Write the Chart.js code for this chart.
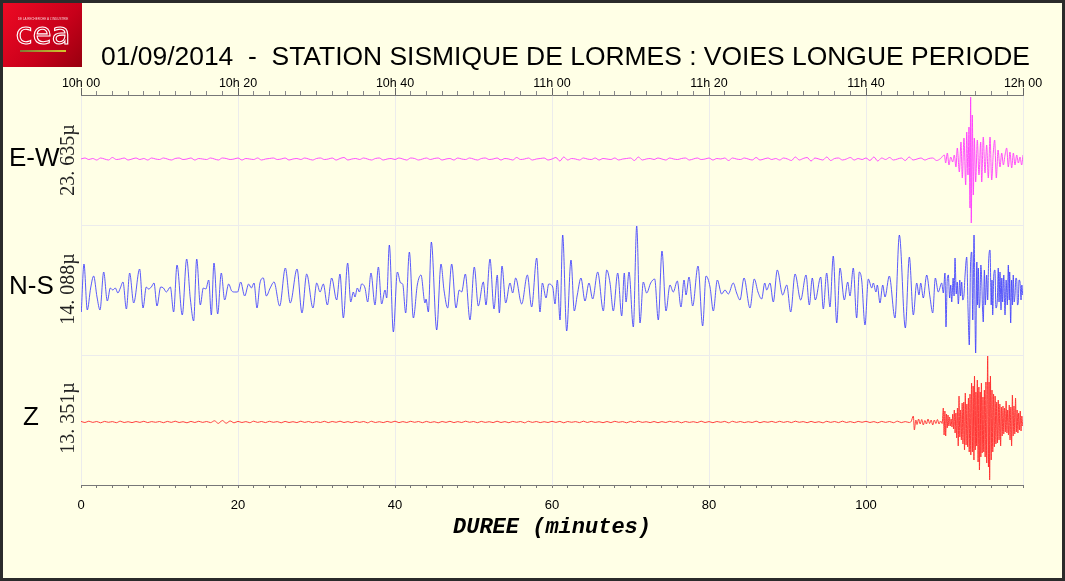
<!DOCTYPE html>
<html><head><meta charset="utf-8">
<script src="https://cdn.jsdelivr.net/npm/chart.js@4.4.1/dist/chart.umd.min.js"></script>
<style>html,body{margin:0;padding:0;background:#ffffe6;overflow:hidden}canvas{display:block}</style>
</head><body>
<canvas id="c" width="1065" height="581"></canvas>
<script>
// ---- tick labels / text ----
const minuteTicks = [0, 20, 40, 60, 80, 100, 120];
const bottomTickLabels = ['0', '20', '40', '60', '80', '100', ''];
const topTickLabels = ['10h 00', '10h 20', '10h 40', '11h 00', '11h 20', '11h 40', '12h 00'];
const channelNames = ['E-W', 'N-S', 'Z'];
const channelScales = ['23. 635\u00b5', '14. 088\u00b5', '13. 351\u00b5'];
const titleText = '01/09/2014  -  STATION SISMIQUE DE LORMES : VOIES LONGUE PERIODE';
const xTitle = 'DUREE (minutes)';

// ---- E-W channel (quiet part sampled every 0.5 min, then the quake as [minute, amplitude]) ----
const ewQuietStep = 0.5;
const ewQuiet = [
  0,1,-0.5,0.5,-1,1,0,-1,1.5,-0.5,0,1,-1,0,1,-0.5,0.5,-1,1,0,
  -0.5,1,0,-1,0.5,1,-0.5,0,1,-1,0.5,0,-0.5,1,0,-1,1,0.5,-0.5,0,
  1,-1,0.5,0,-0.5,1,-1,0,0.5,1,-0.5,0,1,-1,0,0.5,-0.5,1,0,-1,
  0.5,1,-0.5,0,1,-1,0.5,1.5,-1,0,0.5,-0.5,1,0,-1,0.5,1,-1,0,0.5,
  -0.5,1,0,-1,1,0.5,-1,0,1,-0.5,0.5,1,-1,0,0.5,-1,1,0,-0.5,1,
  0,-1,0.5,1,-0.5,0,1,-1,0.5,0,-1,1.5,-0.5,0,1,-1,0,0.5,1,-1,
  0,1.5,-2,2,-1,0.5,0,-1,1,0,-0.5,1,-1,0.5,0,-0.5,1,-1,0,0.5,
  1,-1.5,2,-1,0,0.5,-0.5,1,0,-1,1,0,-0.5,0.5,1,-1,0,1,-0.5,0,
  1,-1,0.5,0,1,-1.5,1,0,-0.5,1,0,-1,1.5,-1,0,1,-0.5,0.5,-1,1,
  0,-1.5,2,-1,0.5,1.5,-2,1,0,-1,2,-1.5,0.5,1,-1,0,1.5,-1,0.5,-0.5,
  1,-1.5,2,-2,1,-0.5,1.5,-1,0,1,-1.5,2,-1,0,1,-1,0.5,1,-1.5,0.5
];
const ewBurst = [
  [109.98,4],[110.15,-4],[110.36,6],[110.57,-6],[110.79,2],[111.04,-3],[111.25,4],[111.46,-8],
  [111.63,11],[111.89,-13],[112.1,17],[112.27,-19],[112.48,21],[112.7,-26],[112.83,27],[112.99,-16],
  [113.12,32],[113.25,-49],[113.33,62],[113.41,-64],[113.54,44],[113.67,-36],[113.8,21],[113.97,-23],
  [114.18,19],[114.39,-16],[114.61,17],[114.74,-23],[114.94,22],[115.16,-14],[115.37,14],[115.58,-19],
  [115.8,22],[116.01,-21],[116.22,7],[116.39,19],[116.6,-19],[116.82,9],[117.07,-8],[117.29,6],
  [117.5,-6],[117.71,4],[117.92,11],[118.13,-8],[118.34,7],[118.56,-9],[118.77,6],[118.98,-6],
  [119.2,4],[119.41,-4],[119.62,2],[119.83,-6],[120,4]
];

// ---- N-S channel: successive extrema [minute, amplitude] ----
const nsTrace = [
  [0.04,-22],[0.38,26],[0.8,-20],[1.23,2],[1.61,14],[2.04,-7],[2.42,-20],[2.89,18],[3.35,-11],[3.74,2],
  [4.05,0],[4.37,2],[4.7,-3],[5.01,2],[5.35,8],[5.78,-19],[6.2,17],[6.71,-13],[7.47,21],[7.9,-18],
  [8.32,3],[8.6,1],[8.96,3],[9.3,7],[9.68,-16],[10.15,3],[10.5,2],[10.87,-2],[11.38,3],[11.8,-22],
  [12.23,25],[12.9,-25],[13.46,31],[13.93,-9],[14.35,-31],[14.74,31],[15.2,-15],[15.58,2],[15.9,1],[16.27,10],
  [16.6,-25],[16.94,27],[17.41,-24],[17.87,17],[18.3,-10],[18.81,6],[19.2,-1],[19.58,-2],[19.95,-2],[20.34,8],
  [20.85,-6],[21.36,6],[21.7,2],[22.04,7],[22.42,-18],[22.8,7],[23.23,12],[23.61,-6],[24.1,2],[24.59,8],
  [25.31,-16],[26.03,22],[26.66,-13],[27.52,21],[28.15,-23],[28.75,16],[29.55,-18],[30.03,7],[30.45,-2],[30.87,6],
  [31.38,-15],[31.93,12],[32.57,-10],[32.99,16],[33.42,-28],[33.97,27],[34.36,-12],[34.69,-2],[34.9,-7],[35.2,2],
  [35.46,-2],[35.75,6],[36.18,2],[36.52,-12],[36.94,17],[37.45,-15],[37.88,23],[38.3,-14],[38.73,0],[38.94,-8],
  [39.28,45],[39.79,-42],[40.3,18],[40.72,7],[40.98,6],[41.36,-23],[41.83,38],[42.34,-28],[42.84,5],[43.31,15],
  [43.82,-13],[43.95,-9],[44.25,-22],[44.63,48],[45.31,-40],[45.86,26],[46.24,0],[46.71,-18],[47.22,26],[47.77,-18],
  [48.19,0],[48.49,-2],[48.96,16],[49.55,-30],[50.1,23],[50.61,-16],[51.25,8],[51.59,-15],[52.1,31],[52.61,-19],
  [53.03,15],[53.29,-23],[53.63,24],[54.1,-13],[54.65,7],[54.99,-3],[55.37,12],[56.14,-14],[56.86,15],[57.41,-17],
  [58.05,32],[58.47,-22],[58.77,7],[59.24,-8],[59.58,6],[60.09,3],[60.38,-14],[60.68,10],[61.02,-30],[61.36,55],
  [61.87,-41],[62.42,30],[62.84,-21],[63.22,-5],[63.69,12],[64.2,-11],[64.71,7],[65.18,-9],[65.82,18],[66.54,-21],
  [66.97,20],[67.39,7],[67.81,-21],[68.37,17],[68.88,-26],[69.21,17],[69.43,-12],[69.81,18],[70.36,-37],[70.79,64],
  [71.21,-33],[71.63,8],[72.06,-3],[72.57,7],[73.08,11],[73.54,-30],[74.01,39],[74.52,-21],[75.03,5],[75.45,-2],
  [75.96,9],[76.43,-17],[76.82,10],[77.07,-5],[77.45,13],[77.92,-16],[78.6,24],[79.19,-36],[79.62,14],[80.13,3],
  [80.55,-21],[81.06,10],[81.61,-4],[82.04,0],[82.46,-4],[83.09,7],[83.52,-3],[83.95,-10],[84.46,12],[85.22,-18],
  [85.77,11],[86.24,-2],[86.71,-9],[87.1,7],[87.35,0],[87.77,7],[88.19,-12],[88.7,20],[89.39,-5],[89.9,5],
  [90.41,-22],[90.96,16],[91.68,-10],[92.36,15],[92.78,-15],[93.16,12],[93.54,-10],[94.23,13],[94.56,-19],[94.99,17],
  [95.41,-17],[95.83,34],[96.27,-33],[96.69,22],[97.24,-10],[97.67,8],[97.96,-6],[98.38,22],[98.81,-28],[99.15,18],
  [99.45,10],[99.87,-35],[100.3,11],[100.73,2],[100.93,7],[101.27,-2],[101.44,5],[101.78,-13],[102.13,5],[102.42,-7],
  [102.97,14],[103.69,-28],[104.25,55],[105.01,-38],[105.52,33],[106.03,-25],[106.46,7],[106.75,-5],[106.97,7],[107.3,-8],
  [107.73,15],[108.15,-7],[108.5,-23],[108.83,12],[109.21,-2],[109.64,7],[109.85,-3],[110.06,17],[110.19,-37],[110.35,10],
  [110.49,15],[110.65,-8],[110.8,5],[110.92,-12],[111.1,12],[111.22,-6],[111.34,32],[111.5,-4],[111.62,8],[111.76,-14],
  [111.95,10],[112.05,-6],[112.19,8],[112.33,-10],[112.48,-5],[112.62,15],[112.83,33],[113.0,-20],[113.16,-55],[113.3,20],
  [113.47,38],[113.6,-30],[113.76,55],[113.97,-63],[114.12,28],[114.2,-15],[114.31,22],[114.42,-18],[114.52,-10],[114.63,25],
  [114.74,10],[114.85,-20],[114.94,-32],[115.08,20],[115.2,-15],[115.37,15],[115.5,-10],[115.62,28],[115.8,40],[115.95,-15],
  [116.05,10],[116.14,-25],[116.28,15],[116.43,20],[116.55,-18],[116.73,-10],[116.85,22],[116.95,-12],[117.07,18],[117.2,-20],
  [117.3,12],[117.41,-12],[117.55,15],[117.71,-25],[117.85,10],[118.0,-15],[118.13,25],[118.25,-10],[118.3,18],[118.43,-33],
  [118.55,10],[118.66,-15],[118.76,15],[118.88,-12],[118.98,-5],[119.1,12],[119.2,10],[119.3,-15],[119.4,-12],[119.5,10],
  [119.62,8],[119.75,-10],[119.85,5],[119.96,-5]
];

// ---- Z channel (quiet part every 0.5 min, then onset / quake as [minute, amplitude]) ----
const zQuietStep = 0.5;
const zQuiet = [
  0.6,-0.5,0.8,-0.4,0.5,-0.8,0.6,-0.3,0.4,-0.7,0.8,-0.5,0.3,-0.6,0.5,-0.4,0.7,-0.6,0.4,-0.3,
  0.5,-0.7,0.6,-0.4,0.8,-0.5,0.3,-0.8,0.6,-0.5,0.7,-0.4,0.5,-0.6,1.2,-1.4,1.5,-1.2,1,-0.8,
  0.6,-0.5,0.4,-0.7,0.8,-0.4,0.5,-0.6,0.7,-0.3,0.4,-0.8,0.6,-0.5,0.3,-0.6,0.8,-0.4,0.5,-0.7,
  0.4,-0.5,0.7,-0.6,0.5,-0.3,0.8,-0.5,0.4,-0.7,0.6,-0.4,0.5,-0.8,0.7,-0.5,0.3,-0.6,0.6,-0.4,
  0.8,-0.6,0.4,-0.5,0.7,-0.3,0.5,-0.7,0.6,-0.5,0.3,-0.8,0.5,-0.4,0.7,-0.6,0.4,-0.5,0.8,-0.3,
  0.5,-0.7,0.6,-0.4,0.3,-0.6,0.8,-0.5,0.4,-0.7,0.6,-0.3,0.5,-0.8,0.7,-0.4,0.5,-0.6,0.3,-0.5,
  0.7,-0.4,0.6,-0.8,0.5,-0.3,0.4,-0.6,0.8,-0.5,0.6,-0.4,0.3,-0.7,0.5,-0.6,0.7,-0.3,0.4,-0.8,
  0.6,-0.5,0.8,-0.4,0.3,-0.6,0.5,-0.7,0.4,-0.5,0.7,-0.3,0.6,-0.8,0.5,-0.4,0.3,-0.6,0.8,-0.5,
  0.4,-0.7,0.5,-0.3,0.6,-0.8,0.7,-0.4,0.5,-0.6,0.3,-0.5,0.8,-0.7,0.4,-0.3,0.6,-0.5,0.7,-0.4,
  0.5,-0.6,0.8,-0.3,0.4,-0.7,0.6,-0.5,0.3,-0.8,0.7,-0.4,0.5,-0.6,0.8,-0.5,0.4,-0.7,0.6,-0.3,
  0.7,-0.5,0.4,-0.8,0.6,-0.4,0.5,-0.7,0.8,-0.6,0.4,-0.5
];
const zBurst = [
  [105.75,0.5],[106.03,6],[106.16,-8],[106.35,2],[106.5,-2.5],[106.7,3],[106.9,-2],[107.1,2.5],[107.3,-3],[107.5,1.5],
  [107.7,-2],[107.9,3],[108.1,-1.5],[108.3,2],[108.5,-3],[108.7,2],[108.9,-1.5],[109.1,2.5],[109.3,-2],[109.5,1],
  [109.7,-1.5],[109.85,14],[109.95,-13],[110.05,11],[110.15,-14],[110.25,8],[110.35,-6],[110.45,7],[110.55,-4],[110.65,5],
  [110.75,-4],[110.85,3],[110.95,-5],[111.05,8],[111.15,-7],[111.25,12],[111.35,-11],[111.45,9],[111.55,-16],[111.65,14],
  [111.75,-24],[111.85,26],[111.95,-15],[112.05,12],[112.15,-18],[112.25,19],[112.35,-22],[112.45,20],[112.55,-28],[112.65,29],
  [112.75,-23],[112.85,18],[112.95,-25],[113.05,24],[113.15,-30],[113.25,28],[113.35,-33],[113.45,39],[113.55,-30],[113.65,36],
  [113.75,-38],[113.82,46],[113.92,-28],[114.0,30],[114.1,-24],[114.18,42],[114.28,-40],[114.38,35],[114.45,-48],[114.55,30],
  [114.63,-35],[114.7,39],[114.8,-31],[114.9,25],[115.0,-30],[115.08,32],[115.18,-35],[115.28,40],[115.38,-41],[115.5,66],
  [115.6,-45],[115.68,40],[115.75,-58],[115.85,46],[115.95,-38],[116.05,32],[116.15,-30],[116.25,28],[116.35,-25],[116.45,26],
  [116.55,-22],[116.65,20],[116.75,-21],[116.85,22],[116.95,-18],[117.05,18],[117.15,-24],[117.25,15],[117.35,-14],[117.45,16],
  [117.55,-12],[117.65,14],[117.75,-10],[117.85,21],[117.95,-11],[118.05,12],[118.15,-13],[118.25,17],[118.35,-18],[118.45,15],
  [118.55,-24],[118.65,27],[118.75,-14],[118.85,16],[118.95,-12],[119.05,24],[119.15,-10],[119.25,12],[119.35,-11],[119.45,9],
  [119.55,-8],[119.65,11],[119.75,-9],[119.85,6],[119.95,-4]
];

// ---- build points ----
const toPts = (quiet, step, burst) =>
  quiet.map((v, i) => ({x: i * step, y: v})).concat(burst.map(([x, y]) => ({x, y})));
const ewPoints = toPts(ewQuiet, ewQuietStep, ewBurst);
const nsPoints = nsTrace.map(([x, y]) => ({x, y}));
const zPoints = toPts(zQuiet, zQuietStep, zBurst);

const CREAM = '#ffffe6';

const decor = {
  id: 'decor',
  beforeDraw(chart) {
    const {ctx, width, height} = chart;
    ctx.save();
    ctx.fillStyle = CREAM;
    ctx.fillRect(0, 0, width, height);
    ctx.restore();
  },
  afterDraw(chart) {
    const {ctx, width, height, chartArea} = chart;
    ctx.save();
    // frame
    ctx.strokeStyle = '#2b2b2b';
    ctx.lineWidth = 3;
    ctx.strokeRect(1.5, 1.5, width - 3, height - 3);
    // logo
    const g = ctx.createLinearGradient(3, 3, 82, 67);
    g.addColorStop(0, '#ee0a24'); g.addColorStop(0.6, '#c8001a'); g.addColorStop(1, '#98000f');
    ctx.fillStyle = g;
    ctx.fillRect(3, 3, 79, 64);
    ctx.fillStyle = 'rgba(255,255,255,0.8)';
    ctx.font = '3px "Liberation Sans"';
    ctx.textAlign = 'center';
    ctx.textBaseline = 'alphabetic';
    ctx.fillText("DE LA RECHERCHE \u00c0 L'INDUSTRIE", 43, 20);
    ctx.strokeStyle = '#ffffff';
    ctx.lineWidth = 1.1;
    ctx.font = '31px "DejaVu Sans"';
    ctx.strokeText('cea', 43, 44);
    const lg = ctx.createLinearGradient(20, 0, 66, 0);
    lg.addColorStop(0, '#7d7a35'); lg.addColorStop(1, '#d6c52c');
    ctx.fillStyle = lg;
    ctx.fillRect(20, 50, 46, 2);
    // title
    ctx.fillStyle = '#000';
    ctx.textAlign = 'left';
    ctx.font = '25px "Liberation Sans"';
    const w = ctx.measureText(titleText).width;
    const fs = 25 * 929 / w;
    ctx.font = fs.toFixed(2) + 'px "Liberation Sans"';
    ctx.fillText(titleText, 101, 65);
    // major ticks on the top axis
    const top = chart.scales.x2;
    ctx.strokeStyle = '#666';
    ctx.lineWidth = 1;
    minuteTicks.forEach(v => {
      const px = Math.round(top.getPixelForValue(v)) + 0.5;
      ctx.beginPath(); ctx.moveTo(px, chartArea.top); ctx.lineTo(px, chartArea.top - 7); ctx.stroke();
    });
    // channel names and scale labels
    const axes = [chart.scales.yEW, chart.scales.yNS, chart.scales.yZ];
    const nameOffsets = [7, 4, 3];
    const scaleOffsets = [1, -1, -4];
    axes.forEach((ax, i) => {
      const y0 = ax.getPixelForValue(0);
      ctx.fillStyle = '#000';
      ctx.font = '26px "Liberation Sans"';
      ctx.textBaseline = 'alphabetic';
      if (i === 2) { ctx.textAlign = 'center'; ctx.fillText(channelNames[i], 31, y0 + nameOffsets[i]); }
      else { ctx.textAlign = 'left'; ctx.fillText(channelNames[i], 9, y0 + nameOffsets[i]); }
      ctx.save();
      ctx.translate(74, y0 + scaleOffsets[i]);
      ctx.rotate(-Math.PI / 2);
      ctx.textAlign = 'center';
      ctx.font = '20px "Liberation Serif"';
      ctx.fillStyle = '#222';
      ctx.fillText(channelScales[i], 0, 0);
      ctx.restore();
    });
    ctx.restore();
  }
};

const minuteLabel = (labels) => (v) => {
  const i = minuteTicks.indexOf(v);
  return i < 0 ? '' : labels[i];
};

const hiddenY = (min, max, extra) => Object.assign({
  type: 'linear', min, max, position: 'left', display: true,
  ticks: {display: false},
  grid: {display: false},
  border: {display: false},
  afterFit(s) { s.width = 0; }
}, extra || {});

new Chart(document.getElementById('c'), {
  type: 'line',
  data: {
    datasets: [
      {label: 'E-W', data: ewPoints, yAxisID: 'yEW', borderColor: '#ff3cff', borderWidth: 0.9},
      {label: 'N-S', data: nsPoints, yAxisID: 'yNS', borderColor: '#3c3cff', borderWidth: 0.85},
      {label: 'Z', data: zPoints, yAxisID: 'yZ', borderColor: '#ff2a2a', borderWidth: 0.9}
    ]
  },
  options: {
    responsive: false,
    animation: false,
    devicePixelRatio: 1,
    layout: {padding: {left: 81, right: 42, top: 65, bottom: 36}},
    elements: {
      point: {radius: 0},
      line: {cubicInterpolationMode: 'monotone', fill: false}
    },
    plugins: {legend: {display: false}, tooltip: {enabled: false}, title: {display: false}},
    scales: {
      x: {
        type: 'linear', position: 'bottom', min: 0, max: 120,
        ticks: {stepSize: 2, autoSkip: false, maxRotation: 0, padding: 10, color: '#000',
                font: {family: 'Liberation Sans', size: 13}, callback: minuteLabel(bottomTickLabels)},
        grid: {color: c => (c.tick && c.tick.value % 20 === 0) ? '#ececec' : 'rgba(0,0,0,0)',
               tickColor: '#777', tickLength: 3, drawTicks: true},
        border: {display: true, color: '#777', width: 1},
        title: {display: true, text: xTitle, color: '#000',
                font: {family: 'Liberation Mono', size: 22, weight: 'bold', style: 'italic'},
                padding: {top: 0, bottom: 4}},
        afterFit(s) { s.height = 60; }
      },
      x2: {
        type: 'linear', position: 'top', min: 0, max: 120,
        ticks: {stepSize: 2, autoSkip: false, maxRotation: 0, padding: 0, color: '#000',
                font: {family: 'Liberation Sans', size: 12.5}, callback: minuteLabel(topTickLabels)},
        grid: {drawOnChartArea: false, tickColor: '#888', tickLength: 4, drawTicks: true},
        border: {display: true, color: '#777', width: 1},
        afterFit(s) { s.height = 30; }
      },
      yEW: hiddenY(-326, 64),
      yNS: hiddenY(-195, 195, {
        ticks: {display: false, stepSize: 65},
        grid: {display: true, drawTicks: false,
               color: c => (c.tick && Math.abs(c.tick.value) === 65) ? '#ececec' : 'rgba(0,0,0,0)'}
      }),
      yZ: hiddenY(-63, 327)
    }
  },
  plugins: [decor]
});
</script>
</body></html>
